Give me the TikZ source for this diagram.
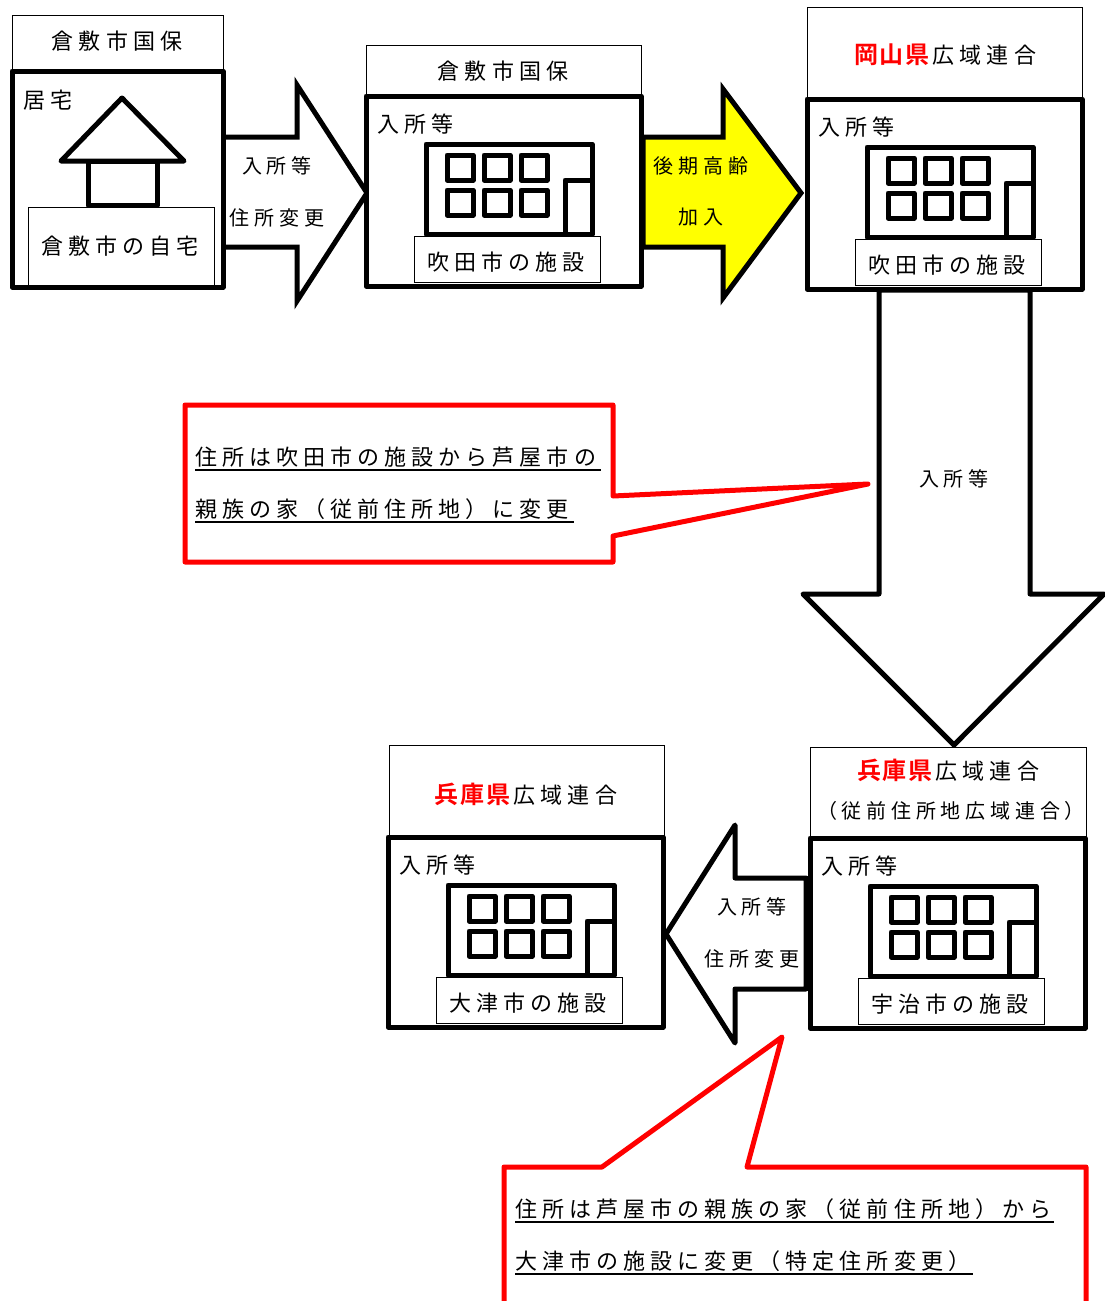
\documentclass[tikz,border=0pt]{standalone}
\usepackage{fontspec}
\setmainfont{Noto Sans CJK JP}
\newfontfamily\jpwide[LetterSpace=23]{Noto Sans CJK JP}
\newfontfamily\jpsmall[LetterSpace=24]{Noto Sans CJK JP}
\newfontfamily\jpbold[LetterSpace=8]{Noto Sans CJK JP Bold}
\definecolor{fullyellow}{RGB}{255,255,0}
\definecolor{fullred}{RGB}{255,0,0}
\newcommand{\fsbig}{\jpwide\fontsize{22}{26}\selectfont}
\newcommand{\fssmall}{\jpsmall\fontsize{20}{24}\selectfont}
\newcommand{\redken}[1]{{\jpbold\fontsize{24}{26}\selectfont\color{fullred}#1}\kern3pt}
\tikzset{
  thinbox/.style={draw,line width=1pt,fill=white},
  heavy/.style={draw,line width=5pt,line join=round,line cap=round},
  sharp/.style={draw,line width=5pt,line join=miter},
  redline/.style={draw=fullred,line width=5pt,line join=round,line cap=round,fill=white},
  bigtxt/.style={inner sep=0pt,font=\fsbig},
  smalltxt/.style={inner sep=0pt,font=\fssmall},
  lefttxt/.style={inner sep=0pt,anchor=west,font=\fsbig},
  uline/.style={line width=1.6pt}
}
% one facility frame with building and name plate
\newcommand{\facility}[4]{
  \begin{scope}[shift={(#2,#3)}]
    \draw[heavy,fill=white] (366,96) rectangle (641,286);
    \node[lefttxt] (#1enter) at (377,124) {入所等};
    \draw[heavy] (426,144) rectangle (592,234);
    \foreach \wx in {447,484,521}
      \foreach \wy in {155,190}
        \draw[heavy] (\wx,\wy) rectangle ++(26,25);
    \draw[heavy] (565,234) |- (592,180);
    \draw[thinbox] (414,236) rectangle (600,282);
    \node[bigtxt] (#1name) at (506,262) {#4};
  \end{scope}
}
\begin{document}
\begin{tikzpicture}[x=1pt,y=-1pt]
  \useasboundingbox (0,0) rectangle (1104,1301);
  \fill[white] (0,0) rectangle (1104,1301);
  % headers
  \draw[thinbox] (12,15) rectangle (223,71);
  \node[bigtxt] (headhome) at (117,41) {倉敷市国保};
  \draw[thinbox] (366,45) rectangle (641,96);
  \node[bigtxt] (headsuita) at (503,71) {倉敷市国保};
  \draw[thinbox] (807,7) rectangle (1082,99);
  \node[bigtxt] (headokayama) at (945,55) {\redken{岡山県}広域連合};
  \draw[thinbox] (389,745) rectangle (664,837);
  \node[bigtxt] (headotsu) at (526,794) {\redken{兵庫県}広域連合};
  \draw[thinbox] (810,747) rectangle (1086,838);
  \node[bigtxt] (headuji) at (948,770) {\redken{兵庫県}広域連合};
  \node[smalltxt] (headuji2) at (951,811) {（従前住所地広域連合）};
  % block arrows
  \draw[sharp,fill=white] (223,137)--(297,137)--(297,85)--(367,193)--(297,301)--(297,247)--(223,247)--cycle;
  \draw[sharp,fill=fullyellow] (643,137)--(723,137)--(723,89)--(801,193)--(723,298)--(723,247)--(643,247)--cycle;
  \draw[heavy,fill=white] (879,290)--(879,594)--(803,594)--(954,745)--(1104,594)--(1030,594)--(1030,290)--cycle;
  \draw[heavy,fill=white] (806,878)--(735,878)--(735,825)--(666,934)--(735,1043)--(735,989)--(806,989)--cycle;
  \node[smalltxt] (arrowa1) at (277,166) {入所等};
  \node[smalltxt] (arrowa2) at (277,218) {住所変更};
  \node[smalltxt] (arrowb1) at (701,166) {後期高齢};
  \node[smalltxt] (arrowb2) at (701,217) {加入};
  \node[smalltxt] (arrowc1) at (954,479) {入所等};
  \node[smalltxt] (arrowd1) at (752,907) {入所等};
  \node[smalltxt] (arrowd2) at (752,959) {住所変更};
  % home
  \draw[heavy,fill=white] (12,71) rectangle (223,287);
  \node[lefttxt] (homelabel) at (23,100) {居宅};
  \draw[heavy] (122,98)--(61,161)--(184,161)--cycle;
  \draw[heavy] (88,161) rectangle (157,205);
  \draw[thinbox] (28,207) rectangle (214,285);
  \node[bigtxt] (homename) at (120,246) {倉敷市の自宅};
  % facilities
  \facility{suita}{0}{0}{吹田市の施設}
  \facility{okayama}{441}{3}{吹田市の施設}
  \facility{otsu}{22}{741}{大津市の施設}
  \facility{uji}{444}{742}{宇治市の施設}
  % callouts
  \draw[redline] (185,405)--(613,405)--(613,496)--(868,484)--(613,536)--(613,562)--(185,562)--cycle;
  \node[lefttxt] (notea1) at (195,457) {住所は吹田市の施設から芦屋市の};
  \node[lefttxt] (notea2) at (195,509) {親族の家（従前住所地）に変更};
  \draw[uline] (195,470)--(601,470);
  \draw[uline] (195,522)--(574,522);
  \draw[redline] (504,1310)--(504,1167)--(602,1167)--(782,1037)--(747,1167)--(1086,1167)--(1086,1310);
  \node[lefttxt] (noteb1) at (515,1209) {住所は芦屋市の親族の家（従前住所地）から};
  \node[lefttxt] (noteb2) at (515,1261) {大津市の施設に変更（特定住所変更）};
  \draw[uline] (515,1222)--(1054,1222);
  \draw[uline] (515,1274)--(973,1274);
\end{tikzpicture}
\end{document}
